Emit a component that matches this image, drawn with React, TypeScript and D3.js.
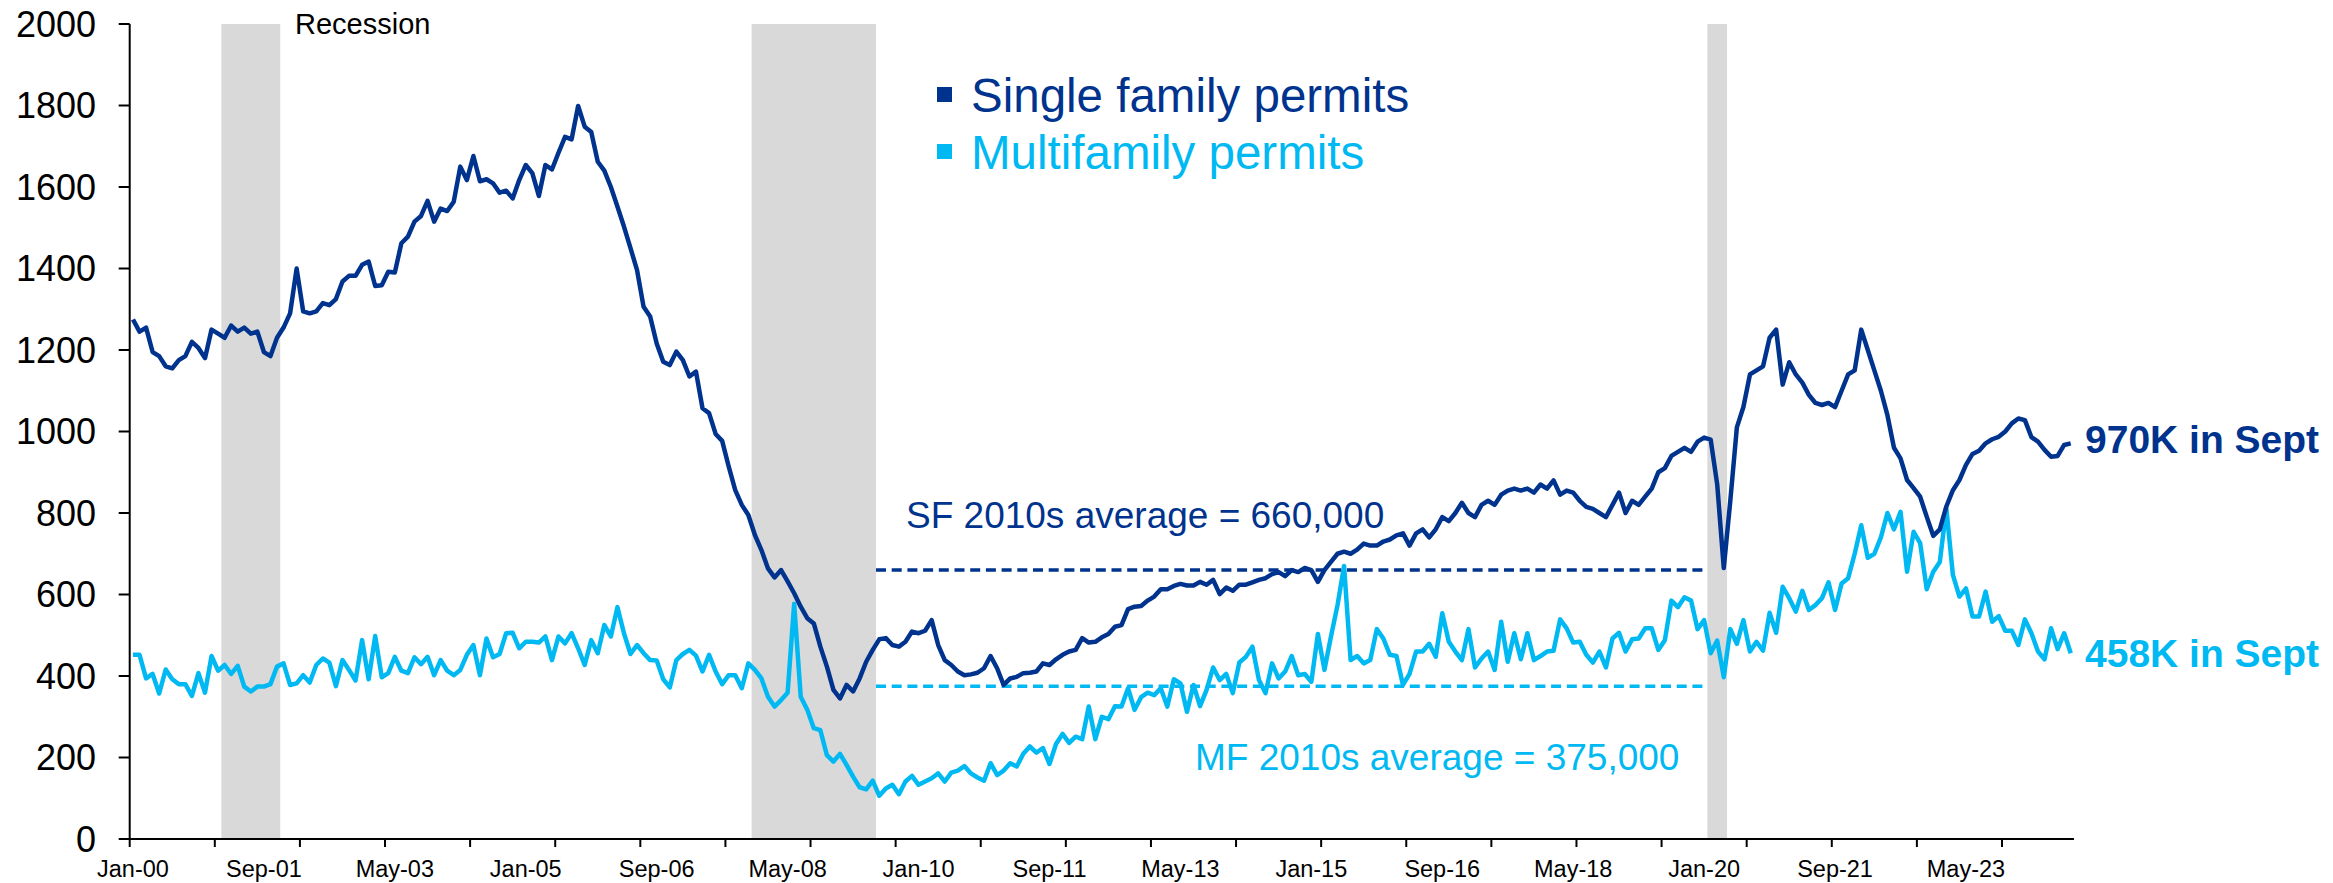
import React from 'react';
import * as d3 from 'd3';

// monthly permits, SAAR, thousands - Jan 2000 .. Sep 2024
const sfPermits = [
  1275, 1245, 1255, 1195, 1185, 1160, 1155, 1175, 1185, 1220, 1205, 1180,
  1250, 1240, 1230, 1260, 1245, 1255, 1240, 1245, 1195, 1185, 1230, 1255,
  1290, 1400, 1295, 1290, 1295, 1315, 1310, 1325, 1368, 1382, 1382, 1409,
  1417, 1357, 1359, 1392, 1390, 1462, 1478, 1515, 1529, 1566, 1515, 1547,
  1541, 1564, 1650, 1617, 1676, 1614, 1619, 1609, 1586, 1591, 1572, 1617,
  1654, 1634, 1578, 1654, 1643, 1684, 1723, 1717, 1799, 1748, 1735, 1662,
  1640, 1600, 1552, 1503, 1450, 1396, 1306, 1282, 1216, 1171, 1163, 1196,
  1175, 1135, 1147, 1057, 1045, 994, 977, 914, 856, 820, 795, 746,
  709, 664, 642, 660, 632, 603, 570, 542, 529, 472, 423, 366,
  345, 378, 362, 394, 435, 464, 490, 493, 476, 472, 484, 509,
  505, 511, 537, 476, 439, 427, 411, 402, 404, 408, 419, 449,
  419, 378, 394, 398, 407, 408, 411, 431, 427, 441, 452, 460,
  464, 493, 482, 484, 495, 503, 521, 525, 564, 570, 572, 585,
  595, 613, 613, 621, 626, 622, 622, 631, 624, 636, 601, 617,
  609, 624, 624, 630, 636, 640, 650, 655, 645, 660, 655, 665,
  660, 631, 660, 680, 700, 705, 700, 710, 725, 720, 720, 730,
  735, 745, 750, 720, 750, 760, 740, 760, 790, 780, 800, 825,
  800, 790, 820, 830, 820, 845, 855, 860, 855, 860, 850, 870,
  860, 880, 845, 855, 850, 830, 815, 810, 800, 790, 820, 850,
  800, 830, 820, 840, 860, 900, 910, 940, 950, 960, 950, 975,
  985, 980, 870, 665, 830, 1010, 1060, 1140, 1150, 1160, 1230, 1250,
  1115, 1170, 1140, 1120, 1090, 1070, 1065, 1070, 1060, 1100, 1140, 1150,
  1250, 1200, 1150, 1100, 1040, 960, 934, 881, 861, 840, 791, 744,
  760, 816, 856, 881, 918, 945, 953, 971, 981, 987, 1000, 1020,
  1032, 1028, 986, 975, 955, 938, 940, 967, 971,
];

const mfPermits = [
  452, 452, 394, 405, 357, 416, 392, 380, 380, 351, 407, 359,
  449, 413, 427, 405, 425, 374, 362, 374, 374, 380, 423, 431,
  378, 382, 402, 384, 427, 443, 433, 375, 439, 415, 389, 488,
  392, 498, 397, 407, 447, 413, 407, 446, 429, 447, 402, 439,
  413, 402, 415, 452, 476, 402, 492, 446, 454, 505, 506, 468,
  484, 484, 482, 497, 439, 497, 480, 505, 468, 427, 488, 456,
  525, 497, 569, 505, 454, 476, 456, 439, 438, 392, 372, 439,
  454, 464, 450, 411, 452, 411, 380, 402, 402, 370, 431, 415,
  394, 349, 325, 341, 359, 577, 349, 317, 272, 267, 206, 190,
  209, 182, 153, 127, 122, 143, 106, 124, 133, 110, 141, 155,
  133, 141, 149, 161, 141, 163, 168, 179, 161, 151, 143, 186,
  157, 168, 186, 178, 209, 227, 212, 223, 184, 233, 258, 236,
  251, 245, 325, 245, 300, 294, 326, 325, 370, 317, 348, 359,
  353, 370, 325, 392, 382, 312, 378, 326, 366, 421, 390, 405,
  358, 433, 447, 472, 390, 358, 431, 394, 411, 449, 402, 405,
  386, 503, 415, 497, 574, 670, 439, 449, 431, 439, 515, 492,
  452, 449, 378, 405, 460, 460, 479, 447, 554, 484, 460, 439,
  515, 421, 443, 460, 415, 533, 435, 505, 441, 505, 439, 449,
  460, 462, 539, 517, 482, 484, 452, 433, 460, 421, 492, 506,
  460, 490, 492, 517, 517, 464, 488, 585, 569, 593, 585, 515,
  537, 456, 487, 397, 515, 479, 537, 460, 484, 462, 555, 506,
  619, 591, 558, 609, 562, 574, 591, 630, 562, 627, 640, 700,
  770, 690, 700, 740, 800, 760, 803, 656, 754, 726, 613, 656,
  680, 811, 648, 595, 615, 546, 546, 607, 533, 547, 511, 511,
  476, 539, 505, 460, 441, 517, 466, 505, 456,
];

const xLabels = ['Jan-00', 'Sep-01', 'May-03', 'Jan-05', 'Sep-06', 'May-08', 'Jan-10', 'Sep-11',
  'May-13', 'Jan-15', 'Sep-16', 'May-18', 'Jan-20', 'Sep-21', 'May-23'];
const yTicks = [0, 200, 400, 600, 800, 1000, 1200, 1400, 1600, 1800, 2000];
const recessions = [['2001-03', '2001-11'], ['2007-12', '2009-06'], ['2020-02', '2020-04']];
const averageSpan = ['2009-07', '2020-01'];
const sfAverage = 660;
const mfAverage = 375;

const NAVY = '#00338D';
const SKY = '#00B9F2';
const FONT = '"Liberation Sans", Arial, sans-serif';

const monthIndex = (s: string) => {
  const [y, m] = s.split('-').map(Number);
  return (y - 2000) * 12 + (m - 1);
};

export default function App() {
  const width = 2333;
  const height = 883;
  const n = sfPermits.length; // 297 months

  const x = d3.scaleLinear().domain([0, n]).range([129.7, 2074]);
  const y = d3.scaleLinear().domain([0, 2000]).range([839, 24]);

  const line = d3.line<number>()
    .x((_, i) => x(i + 0.5))
    .y(d => y(d));

  const tickCats = d3.range(0, n + 1, 13);
  const avgX0 = x(monthIndex(averageSpan[0]));
  const avgX1 = x(monthIndex(averageSpan[1]) + 1);

  return (
    <svg width={width} height={height} style={{ position: 'absolute', left: 0, top: 0 }} fontFamily={FONT}>
      <rect width={width} height={height} fill="#fff" />

      {/* recession shading */}
      {recessions.map(([s, e]) => (
        <rect key={s} x={x(monthIndex(s))} y={y(2000)} width={x(monthIndex(e) + 1) - x(monthIndex(s))}
          height={y(0) - y(2000)} fill="#D9D9D9" />
      ))}
      <text x={295} y={34} fontSize={29} fill="#000">Recession</text>

      {/* y axis */}
      <line x1={x(0)} x2={x(0)} y1={y(2000)} y2={y(0)} stroke="#000" strokeWidth={2} />
      {yTicks.map(t => (
        <g key={t}>
          <line x1={x(0) - 11} x2={x(0)} y1={y(t)} y2={y(t)} stroke="#000" strokeWidth={2} />
          <text x={96} y={y(t)} dy="0.36em" textAnchor="end" fontSize={36} fill="#000">{t}</text>
        </g>
      ))}

      {/* x axis */}
      <line x1={x(0)} x2={x(n)} y1={y(0)} y2={y(0)} stroke="#000" strokeWidth={2} />
      {tickCats.map(c => (
        <line key={c} x1={x(c)} x2={x(c)} y1={y(0)} y2={y(0) + 8} stroke="#000" strokeWidth={2} />
      ))}
      {xLabels.map((l, k) => (
        <text key={l} x={x(k * 20 + 0.5)} y={877} textAnchor="middle" fontSize={23.5} fill="#000">{l}</text>
      ))}

      {/* 2010s averages */}
      <line x1={avgX0} x2={avgX1} y1={y(sfAverage)} y2={y(sfAverage)} stroke={NAVY} strokeWidth={3.5} strokeDasharray="10,5.7" />
      <line x1={avgX0} x2={avgX1} y1={y(mfAverage)} y2={y(mfAverage)} stroke={SKY} strokeWidth={3.5} strokeDasharray="10,5.7" />
      <text x={906} y={528} fontSize={37} fill={NAVY}>SF 2010s average = 660,000</text>
      <text x={1195} y={770} fontSize={37} fill={SKY}>MF 2010s average = 375,000</text>

      {/* series */}
      <path d={line(mfPermits) || ''} fill="none" stroke={SKY} strokeWidth={4.5} strokeLinejoin="round" />
      <path d={line(sfPermits) || ''} fill="none" stroke={NAVY} strokeWidth={4.5} strokeLinejoin="round" />

      {/* end labels */}
      <text x={2085} y={453} fontSize={39} fontWeight="bold" fill={NAVY}>970K in Sept</text>
      <text x={2085} y={667} fontSize={39} fontWeight="bold" fill={SKY}>458K in Sept</text>

      {/* legend */}
      <rect x={937} y={87} width={15} height={15} fill={NAVY} />
      <text x={971} y={112} fontSize={47.5} fill={NAVY}>Single family permits</text>
      <rect x={937} y={144} width={15} height={15} fill={SKY} />
      <text x={971} y={169} fontSize={47.5} fill={SKY}>Multifamily permits</text>
    </svg>
  );
}
